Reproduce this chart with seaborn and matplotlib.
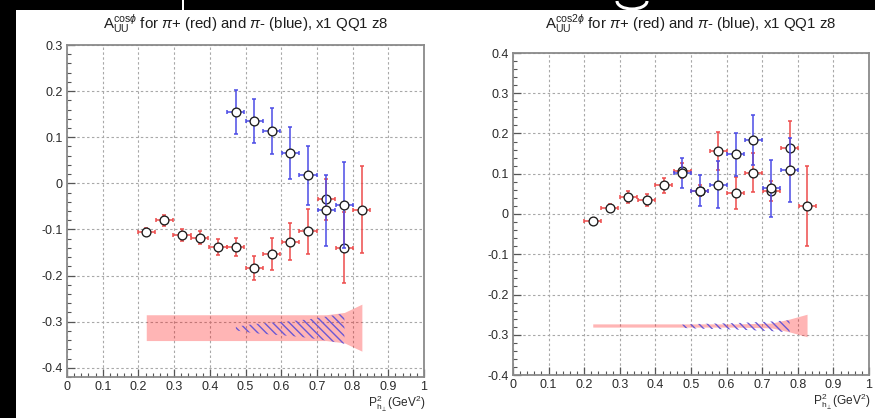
import numpy as np
import pandas as pd
import matplotlib
matplotlib.use("Agg")
import matplotlib.pyplot as plt
from matplotlib.patches import Rectangle, Arc
from matplotlib.ticker import MultipleLocator, FuncFormatter
import seaborn as sns

# ---------------- A_UU^{cos phi} ----------------
cos_pip_x = [0.222, 0.272, 0.322, 0.372, 0.423, 0.473, 0.524, 0.574, 0.625, 0.675, 0.726, 0.777, 0.826]
cos_pip_y = [-0.106, -0.080, -0.111, -0.118, -0.138, -0.138, -0.184, -0.154, -0.127, -0.104, -0.035, -0.140, -0.057]
cos_pip_err = [0.009, 0.012, 0.013, 0.014, 0.017, 0.020, 0.026, 0.035, 0.040, 0.049, 0.045, 0.077, 0.094]

cos_pim_x = [0.473, 0.524, 0.574, 0.625, 0.675, 0.726, 0.777]
cos_pim_y = [0.154, 0.135, 0.113, 0.066, 0.017, -0.058, -0.047]
cos_pim_err = [0.048, 0.048, 0.050, 0.057, 0.064, 0.077, 0.094]

# systematic bands (centre, half width) drawn at the bottom of the frame
cos_pip_sys_c = -0.313
cos_pip_sys = [0.028, 0.028, 0.028, 0.028, 0.028, 0.028, 0.028, 0.028, 0.028, 0.028, 0.028, 0.033, 0.051]
cos_pim_sys_c = -0.315
cos_pim_sys = [0.004, 0.010, 0.013, 0.016, 0.020, 0.026, 0.033]

# ---------------- A_UU^{cos 2phi} ----------------
cos2_pip_x = [0.224, 0.272, 0.324, 0.375, 0.424, 0.475, 0.524, 0.576, 0.625, 0.675, 0.726, 0.777, 0.826]
cos2_pip_y = [-0.018, 0.015, 0.042, 0.034, 0.071, 0.108, 0.058, 0.157, 0.052, 0.103, 0.057, 0.164, 0.020]
cos2_pip_err = [0.008, 0.010, 0.014, 0.015, 0.019, 0.018, 0.014, 0.047, 0.040, 0.048, 0.025, 0.068, 0.100]

cos2_pim_x = [0.475, 0.524, 0.576, 0.625, 0.675, 0.726, 0.777]
cos2_pim_y = [0.102, 0.058, 0.073, 0.148, 0.184, 0.064, 0.110]
cos2_pim_err = [0.037, 0.039, 0.058, 0.053, 0.063, 0.071, 0.080]

cos2_pip_sys_c = -0.277
cos2_pip_sys = [0.004, 0.004, 0.004, 0.004, 0.004, 0.004, 0.004, 0.004, 0.004, 0.005, 0.006, 0.016, 0.028]
cos2_pim_sys_c = -0.279
cos2_pim_sys = [0.004, 0.006, 0.007, 0.008, 0.010, 0.012, 0.015]

x_ticks = [0.0, 0.1, 0.2, 0.3, 0.4, 0.5, 0.6, 0.7, 0.8, 0.9, 1.0]
titles = [r"$\mathrm{A}_{\mathrm{UU}}^{\mathrm{cos}\phi}$ for $\pi$+ (red) and $\pi$- (blue), x1 QQ1 z8",
          r"$\mathrm{A}_{\mathrm{UU}}^{\mathrm{cos2}\phi}$ for $\pi$+ (red) and $\pi$- (blue), x1 QQ1 z8"]
x_label = r"$\mathrm{P}_{\mathrm{h}_{\perp}}^{2}$(GeV$^{2}$)"

RED = "#ee4c4c"
BLUE = "#4b4be6"
PINK = (1.0, 0.0, 0.0, 0.29)
HATCH = "#6a58d4"
XERR = 0.024
LABEL_SIZE = 9

sns.set_theme(style="white")
plt.rcParams["font.family"] = ["Liberation Sans", "DejaVu Sans"]
plt.rcParams["mathtext.fontset"] = "custom"
plt.rcParams["mathtext.rm"] = "Liberation Sans"
plt.rcParams["mathtext.it"] = "Liberation Sans:italic"
plt.rcParams["mathtext.sf"] = "Liberation Sans"
plt.rcParams["axes.unicode_minus"] = False
plt.rcParams["hatch.linewidth"] = 1.0

W, H = 875, 418
fig = plt.figure(figsize=(W / 100, H / 100), dpi=100, facecolor="white")


def add_axes_px(x0, x1, ytop, ybot):
    return fig.add_axes([x0 / W, 1 - ybot / H, (x1 - x0) / W, (ybot - ytop) / H])


def fmt(v, _pos):
    s = f"{v:.1f}".rstrip("0").rstrip(".")
    return "0" if s in ("-0", "0") else s


def draw_panel(ax, px, py, pe, mx, my, me, pc, ps, mc, ms, ylim, title):
    ax.set_facecolor("white")
    ax.set_xlim(0, 1)
    ax.set_ylim(*ylim)

    # systematic bands
    px_a = np.asarray(px)
    ps_a = np.asarray(ps)
    ax.fill_between(px_a, pc - ps_a, pc + ps_a, color=PINK, lw=0, zorder=2)
    mx_a = np.asarray(mx)
    ms_a = np.asarray(ms)
    ax.fill_between(mx_a, mc - ms_a, mc + ms_a, facecolor="none", edgecolor=HATCH,
                    hatch="\\\\\\\\", lw=0, zorder=2.5)

    # pi+ points
    ax.errorbar(px, py, yerr=pe, xerr=XERR, fmt="none", ecolor=RED,
                elinewidth=1.1, capsize=1.6, capthick=1.1, zorder=3)
    sns.scatterplot(x=px, y=py, ax=ax, marker="o", s=40, color="white",
                    edgecolor="#1c1c1c", linewidth=0.95, zorder=4, legend=False)
    # pi- points
    ax.errorbar(mx, my, yerr=me, xerr=XERR, fmt="none", ecolor=BLUE,
                elinewidth=1.1, capsize=1.6, capthick=1.1, zorder=5)
    sns.scatterplot(x=mx, y=my, ax=ax, marker="o", s=40, color="white",
                    edgecolor="#1c1c1c", linewidth=0.95, zorder=6, legend=False)

    ax.set_xticks(x_ticks)
    ax.xaxis.set_minor_locator(MultipleLocator(0.02))
    ax.yaxis.set_major_locator(MultipleLocator(0.1))
    ax.yaxis.set_minor_locator(MultipleLocator(0.02))
    ax.xaxis.set_major_formatter(FuncFormatter(fmt))
    ax.yaxis.set_major_formatter(FuncFormatter(fmt))
    ax.grid(True, which="major", color="#a8a8a8", ls=(0, (2.2, 2.2)), lw=0.8)
    ax.set_axisbelow(True)
    ax.tick_params(which="both", direction="in", left=True, bottom=True,
                   top=False, right=False, colors="#555555",
                   labelcolor="#2a2a2a", labelsize=LABEL_SIZE)
    ax.tick_params(which="major", length=6, width=0.9, pad=3)
    ax.tick_params(which="minor", length=3, width=0.8)
    for sp in ax.spines.values():
        sp.set_color("#8a8a8a")
        sp.set_linewidth(1.3)
    ax.set_xlabel("")
    ax.set_ylabel("")
    bb = ax.get_position()
    label_y = -(17 / H) / bb.height
    ax.text(1.005, label_y, x_label, transform=ax.transAxes, ha="right", va="top",
            fontsize=8.6, color="#2a2a2a")
    fig.text((bb.x0 + bb.x1) / 2, 1 - 24 / H, title, ha="center", va="center",
             fontsize=10.8, color="#1e1e1e")


ax1 = add_axes_px(67, 424, 45, 377)
draw_panel(ax1, cos_pip_x, cos_pip_y, cos_pip_err, cos_pim_x, cos_pim_y, cos_pim_err,
           cos_pip_sys_c, cos_pip_sys, cos_pim_sys_c, cos_pim_sys, (-0.42, 0.3), titles[0])

ax2 = add_axes_px(513, 869, 53, 375)
draw_panel(ax2, cos2_pip_x, cos2_pip_y, cos2_pip_err, cos2_pim_x, cos2_pim_y, cos2_pim_err,
           cos2_pip_sys_c, cos2_pip_sys, cos2_pim_sys_c, cos2_pim_sys, (-0.4, 0.4), titles[1])

# dark slide border around the canvas
fig.patches.append(Rectangle((0, 1 - 10 / H), 1, 10 / H, transform=fig.transFigure,
                             facecolor="black", edgecolor="none", zorder=10))
fig.patches.append(Rectangle((0, 0), 16 / W, 1, transform=fig.transFigure,
                             facecolor="black", edgecolor="none", zorder=10))
fig.patches.append(Rectangle((182 / W, 1 - 10 / H), 2 / W, 10 / H, transform=fig.transFigure,
                             facecolor="white", edgecolor="none", zorder=11))
fig.patches.append(Arc((632 / W, 1 - 1 / H), 30 / W, 16 / H, theta1=180, theta2=360,
                       transform=fig.transFigure, color="white", lw=2.2, zorder=11))

fig.savefig("out.png", dpi=100, facecolor="white")
